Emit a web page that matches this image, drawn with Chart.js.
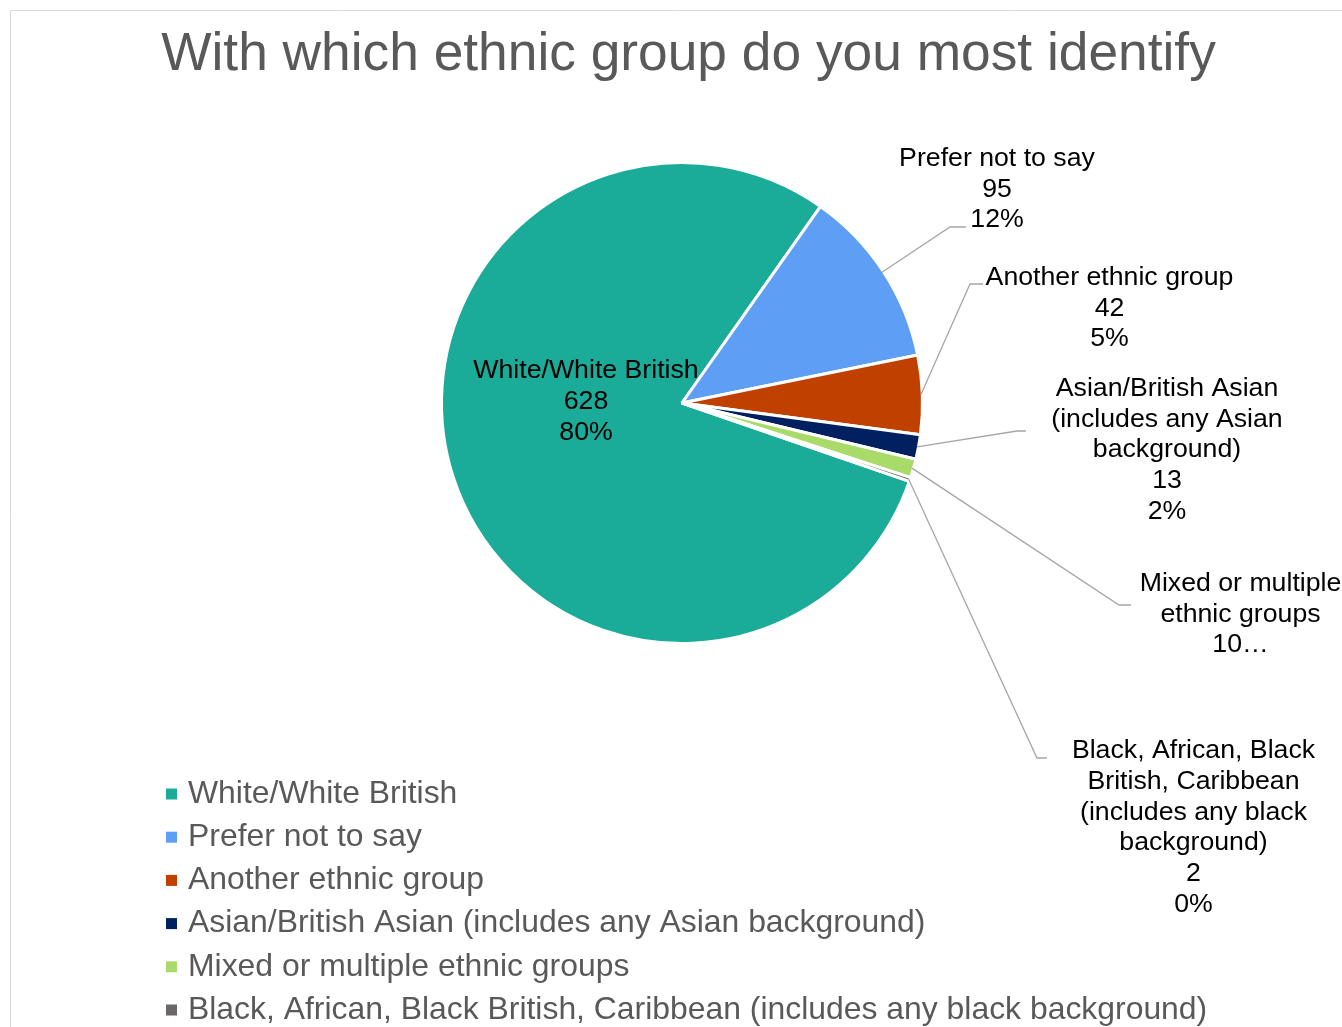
<!DOCTYPE html>
<html><head><meta charset="utf-8">
<script src="https://cdn.jsdelivr.net/npm/chart.js@4/dist/chart.umd.min.js"></script>
<style>html,body{margin:0;padding:0;background:#fff;} #wrap{position:relative;width:1342px;height:1027px;}</style>
</head><body><div id="wrap"><canvas id="c"></canvas></div>
<script>
// ---- data ----
const chartTitle = 'With which ethnic group do you most identify';
const categories = [
  'White/White British',
  'Prefer not to say',
  'Another ethnic group',
  'Asian/British Asian (includes any Asian background)',
  'Mixed or multiple ethnic groups',
  'Black, African, Black British, Caribbean (includes any black background)'
];
const counts = [628, 95, 42, 13, 10, 2];
// percentages as printed in the data labels
const percents = [80, 12, 5, 2, 1, 0];
// data-label category text, wrapped as shown in the picture
const labelLines = [
  ['White/White British'],
  ['Prefer not to say'],
  ['Another ethnic group'],
  ['Asian/British Asian', '(includes any Asian', 'background)'],
  ['Mixed or multiple', 'ethnic groups'],
  ['Black, African, Black', 'British, Caribbean', '(includes any black', 'background)']
];
const labelTruncated = [false, false, false, false, true, false];

// ---- styles / layout ----
const colors = ['#1AAB99', '#5F9EF5', '#C04000', '#002060', '#A9DB6B', '#6B6767'];
const FONT = '"Liberation Sans", Arial, Helvetica, sans-serif';
// label anchor (first line centre) relative to pie centre; leader elbow + end relative to pie centre
const labelLayout = [
  {t: [-96, -32], elbow: null, end: null},
  {t: [315, -244.5], elbow: [268, -176], end: [284, -176]},
  {t: [427.5, -125.5], elbow: [288, -119], end: [301, -119]},
  {t: [485, -14.5], elbow: [335, 28], end: [344, 28]},
  {t: [558.5, 180.5], elbow: [437, 202], end: [449, 202]},
  {t: [511.5, 348], elbow: [355, 355], end: [365, 355]}
];

const decor = {
  id: 'decor',
  beforeDraw(chart) {
    const ctx = chart.ctx;
    ctx.save();
    ctx.strokeStyle = '#D9D9D9';
    ctx.lineWidth = 1;
    ctx.beginPath();
    ctx.moveTo(10.5, chart.height);
    ctx.lineTo(10.5, 10.5);
    ctx.lineTo(chart.width, 10.5);
    ctx.stroke();
    // title
    ctx.fillStyle = '#595959';
    ctx.font = '53.3px ' + FONT;
    ctx.textAlign = 'center';
    ctx.textBaseline = 'alphabetic';
    ctx.fillText(chartTitle, 688.5, 70);
    ctx.restore();
  },
  afterDatasetsDraw(chart) {
    const ctx = chart.ctx;
    const meta = chart.getDatasetMeta(0);
    ctx.save();
    meta.data.forEach((arc, i) => {
      const p = arc.getProps(['x', 'y', 'startAngle', 'endAngle', 'outerRadius'], true);
      const L = labelLayout[i];
      const cx = p.x, cy = p.y;
      if (L.elbow) {
        const mid = (p.startAngle + p.endAngle) / 2;
        const r = p.outerRadius - 1.5;
        ctx.strokeStyle = '#A6A6A6';
        ctx.lineWidth = 1.3;
        ctx.beginPath();
        ctx.moveTo(cx + Math.cos(mid) * r, cy + Math.sin(mid) * r);
        ctx.lineTo(cx + L.elbow[0], cy + L.elbow[1]);
        ctx.lineTo(cx + L.end[0], cy + L.end[1]);
        ctx.stroke();
      }
      let lines = labelLines[i].slice();
      if (labelTruncated[i]) lines.push(counts[i] + '\u2026');
      else lines.push(String(counts[i]), percents[i] + '%');
      ctx.fillStyle = '#000';
      ctx.font = '26.7px ' + FONT;
      ctx.textAlign = 'center';
      ctx.textBaseline = 'middle';
      lines.forEach((s, k) => ctx.fillText(s, cx + L.t[0], cy + L.t[1] + k * 30.7));
    });
    // legend
    ctx.font = '31.9px ' + FONT;
    ctx.textAlign = 'left';
    ctx.textBaseline = 'middle';
    categories.forEach((name, i) => {
      const y = 794 + i * 43.2;
      ctx.fillStyle = colors[i];
      ctx.fillRect(166, y - 5.5, 11, 11);
      ctx.fillStyle = '#595959';
      ctx.fillText(name, 188, y);
    });
    ctx.restore();
  }
};

new Chart(document.getElementById('c'), {
  type: 'pie',
  data: {
    labels: categories,
    datasets: [{
      data: counts,
      backgroundColor: colors,
      borderColor: '#FFFFFF',
      borderWidth: 3
    }]
  },
  options: {
    responsive: true,
    maintainAspectRatio: false,
    animation: false,
    rotation: 109,
    layout: {padding: {left: 440, right: 418, top: 161, bottom: 382}},
    plugins: {legend: {display: false}, tooltip: {enabled: false}, title: {display: false}}
  },
  plugins: [decor]
});
</script>
</body></html>
